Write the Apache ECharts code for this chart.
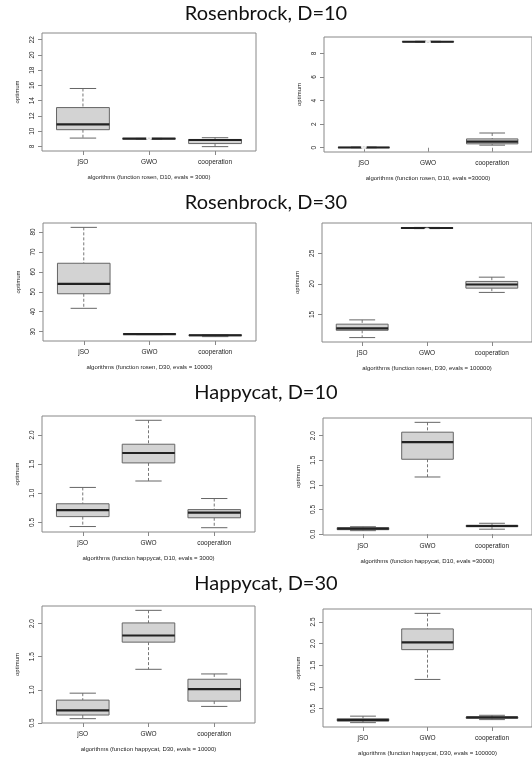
<!DOCTYPE html>
<html>
<head>
<meta charset="utf-8">
<script src="https://cdn.jsdelivr.net/npm/echarts@6.0.0/dist/echarts.min.js"></script>
<style>
  html, body { margin: 0; padding: 0; background: #fff; }
  #chart { width: 532px; height: 761px; }
</style>
</head>
<body>
<div id="chart"></div>
<script>
// categories
const algorithms = ['jSO', 'GWO', 'cooperation'];
const rowTitles = ['Rosenbrock, D=10', 'Rosenbrock, D=30', 'Happycat, D=10', 'Happycat, D=30'];
const xTitles = [
  'algorithms (function rosen, D10, evals = 3000)',
  'algorithms (function rosen, D10, evals =30000)',
  'algorithms (function rosen, D30, evals = 10000)',
  'algorithms (function rosen, D30, evals = 100000)',
  'algorithms (function happycat, D10, evals = 3000)',
  'algorithms (function happycat, D10, evals =30000)',
  'algorithms (function happycat, D30, evals = 10000)',
  'algorithms (function happycat, D30, evals = 100000)'
];

// box stats per algorithm: [lower whisker, Q1, median, Q3, upper whisker]
const rosenD10e3000 = [[9.1, 10.2, 10.9, 13.1, 15.6], [8.97, 9.0, 9.02, 9.04, 9.06], [7.98, 8.38, 8.85, 8.92, 9.15]];
const rosenD10e30000 = [[0.0, 0.01, 0.02, 0.04, 0.06], [8.95, 8.97, 8.99, 9.01, 9.03], [0.22, 0.33, 0.52, 0.75, 1.25]];
const rosenD30e10000 = [[41.7, 49.0, 54.0, 64.3, 82.3], [28.5, 28.7, 28.8, 28.9, 29.0], [27.5, 27.9, 28.2, 28.4, 28.5]];
const rosenD30e100000 = [[11.2, 12.4, 12.7, 13.4, 14.1], [29.05, 29.1, 29.15, 29.2, 29.25], [18.6, 19.3, 19.9, 20.4, 21.1]];
const happyD10e3000 = [[0.43, 0.60, 0.71, 0.82, 1.10], [1.21, 1.52, 1.69, 1.84, 2.25], [0.41, 0.58, 0.67, 0.72, 0.91]];
const happyD10e30000 = [[0.07, 0.09, 0.11, 0.13, 0.15], [1.16, 1.52, 1.87, 2.07, 2.27], [0.10, 0.15, 0.165, 0.18, 0.22]];
const happyD30e10000 = [[0.565, 0.62, 0.69, 0.845, 0.95], [1.31, 1.72, 1.82, 2.01, 2.20], [0.75, 0.83, 1.01, 1.16, 1.24]];
const happyD30e100000 = [[0.17, 0.21, 0.23, 0.26, 0.32], [1.17, 1.86, 2.03, 2.34, 2.70], [0.24, 0.27, 0.29, 0.30, 0.34]];

// outliers: [algorithm number (1..3), value]
const rosenD10e3000Out = [[1, 22.3], [2, 9.12]];
const rosenD10e30000Out = [[1, 0.1], [2, 8.93]];
const rosenD30e100000Out = [[2, 28.75]];
const happyD30e10000Out = [[2, 1.24]];

// y tick labels
const yTicks = [
  [8, 10, 12, 14, 16, 18, 20, 22],
  [0, 2, 4, 6, 8],
  [30, 40, 50, 60, 70, 80],
  [15, 20, 25],
  [0.5, 1.0, 1.5, 2.0],
  [0.0, 0.5, 1.0, 1.5, 2.0],
  [0.5, 1.0, 1.5, 2.0],
  [0.5, 1.0, 1.5, 2.0, 2.5]
];

const panels = [
  { stats: rosenD10e3000, out: rosenD10e3000Out },
  { stats: rosenD10e30000, out: rosenD10e30000Out },
  { stats: rosenD30e10000, out: [] },
  { stats: rosenD30e100000, out: rosenD30e100000Out },
  { stats: happyD10e3000, out: [] },
  { stats: happyD10e30000, out: [] },
  { stats: happyD30e10000, out: happyD30e10000Out },
  { stats: happyD30e100000, out: [] }
];

// plot frames (px)
const boxes = [
  { left: 42, top: 33, width: 214, height: 118 },
  { left: 324, top: 37, width: 211, height: 115 },
  { left: 43, top: 223, width: 213, height: 118 },
  { left: 322, top: 223, width: 211, height: 119 },
  { left: 42, top: 416, width: 213, height: 116 },
  { left: 323, top: 418, width: 211, height: 117 },
  { left: 42, top: 606, width: 213, height: 117 },
  { left: 323, top: 609, width: 211, height: 118 }
];
const titleTops = [4, 193, 383, 574];

const txt = '#222';
const frame = '#888';

function renderBox(params, api) {
  const x = api.value(0);
  const w = api.size([0.8, 0])[0];
  const cw = api.size([0.4, 0])[0];
  const lo = api.coord([x, api.value(1)]);
  const q1 = api.coord([x, api.value(2)]);
  const md = api.coord([x, api.value(3)]);
  const q3 = api.coord([x, api.value(4)]);
  const hi = api.coord([x, api.value(5)]);
  const cx = md[0];
  const dash = { stroke: '#777', lineWidth: 1, lineDash: [3, 2] };
  const solid = { stroke: '#666', lineWidth: 1 };
  return {
    type: 'group',
    children: [
      { type: 'line', shape: { x1: cx, y1: hi[1], x2: cx, y2: q3[1] }, style: dash },
      { type: 'line', shape: { x1: cx, y1: q1[1], x2: cx, y2: lo[1] }, style: dash },
      { type: 'line', shape: { x1: cx - cw / 2, y1: hi[1], x2: cx + cw / 2, y2: hi[1] }, style: solid },
      { type: 'line', shape: { x1: cx - cw / 2, y1: lo[1], x2: cx + cw / 2, y2: lo[1] }, style: solid },
      { type: 'rect', shape: { x: cx - w / 2, y: q3[1], width: w, height: q1[1] - q3[1] },
        style: { fill: '#d3d3d3', stroke: '#666', lineWidth: 1 } },
      { type: 'line', shape: { x1: cx - w / 2, y1: md[1], x2: cx + w / 2, y2: md[1] },
        style: { stroke: '#222', lineWidth: 2.2 } }
    ]
  };
}

const grid = [], xAxis = [], yAxis = [], series = [];
panels.forEach((p, i) => {
  let lo = Infinity, hi = -Infinity;
  p.stats.forEach(s => { lo = Math.min(lo, s[0]); hi = Math.max(hi, s[4]); });
  p.out.forEach(o => { lo = Math.min(lo, o[1]); hi = Math.max(hi, o[1]); });
  const pad = (hi - lo) * 0.04;
  const dec = yTicks[i].some(v => v % 1 !== 0) ? 1 : 0;

  grid.push(Object.assign({ show: true, borderColor: frame, borderWidth: 1, backgroundColor: 'transparent' }, boxes[i]));
  xAxis.push({
    type: 'value', gridIndex: i, min: 0.38, max: 3.62,
    name: xTitles[i], nameLocation: 'middle', nameGap: 23,
    nameTextStyle: { fontSize: 6, color: txt, fontFamily: 'Liberation Sans' },
    axisLine: { show: false },
    splitLine: { show: false },
    axisTick: { show: true, customValues: [1, 2, 3], length: 4, lineStyle: { color: frame } },
    axisLabel: {
      customValues: [1, 2, 3], margin: 8, fontSize: 6.5, color: txt, fontFamily: 'Liberation Sans',
      formatter: v => algorithms[Math.round(v) - 1]
    }
  });
  yAxis.push({
    type: 'value', gridIndex: i, min: lo - pad, max: hi + pad,
    name: 'optimum', nameLocation: 'middle', nameGap: 22, nameRotate: 90,
    nameTextStyle: { fontSize: 6, color: txt, fontFamily: 'Liberation Sans' },
    axisLine: { show: false },
    splitLine: { show: false },
    axisTick: { show: true, customValues: yTicks[i], length: 4, lineStyle: { color: frame } },
    axisLabel: {
      customValues: yTicks[i], rotate: 90, margin: 6, fontSize: 6.5, color: txt,
      fontFamily: 'Liberation Sans', formatter: v => v.toFixed(dec)
    }
  });
  series.push({
    type: 'custom', xAxisIndex: i, yAxisIndex: i,
    renderItem: renderBox,
    encode: { x: 0, y: [1, 2, 3, 4, 5] },
    data: p.stats.map((s, k) => [k + 1].concat(s)),
    silent: true
  });
  if (p.out.length) {
    series.push({
      type: 'scatter', xAxisIndex: i, yAxisIndex: i,
      symbol: 'emptyCircle', symbolSize: 4,
      itemStyle: { color: '#fff', borderColor: '#555', borderWidth: 1 },
      data: p.out, silent: true, z: 3
    });
  }
});

const chart = echarts.init(document.getElementById('chart'), null, { renderer: 'canvas' });
chart.setOption({
  animation: false,
  backgroundColor: '#fff',
  title: rowTitles.map((t, r) => ({
    text: t, left: 'center', top: titleTops[r], padding: 0,
    textStyle: { fontFamily: 'Lato', fontSize: 20, fontWeight: 'normal', color: '#111' }
  })),
  grid: grid,
  xAxis: xAxis,
  yAxis: yAxis,
  series: series
});
</script>
</body>
</html>
